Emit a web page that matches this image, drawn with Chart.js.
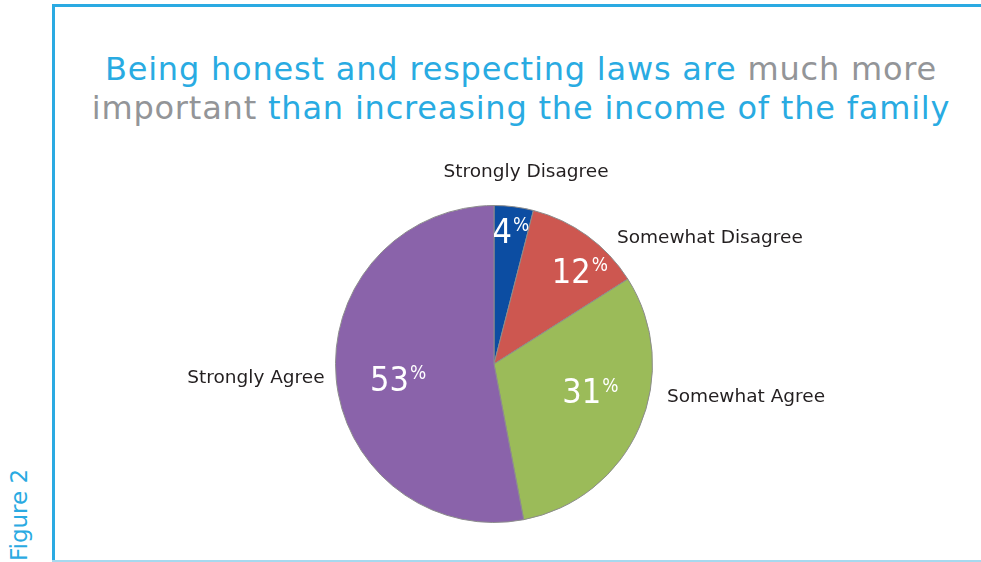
<!DOCTYPE html>
<html>
<head>
<meta charset="utf-8">
<script src="https://cdn.jsdelivr.net/npm/chart.js@4.4.0/dist/chart.umd.min.js"></script>
<style>
  html, body { margin: 0; padding: 0; background: #fff; }
  body { width: 981px; height: 562px; position: relative; overflow: hidden;
         font-family: "DejaVu Sans", sans-serif; }
  #frame { position: absolute; left: 52px; top: 4px; width: 940px; height: 570px;
           border-top: 3px solid #2aaae2; border-left: 3px solid #2aaae2; }
  #bottomLine { position: absolute; left: 52px; top: 560px; width: 929px; height: 2px; background: #a6d9ef; }
  #fig { position: absolute; left: 0; top: 0; transform-origin: 0 0;
         transform: translate(5px, 561px) rotate(-90deg);
         font-size: 23px; line-height: 28px; color: #2aaae2; white-space: nowrap; }
  #title { position: absolute; top: 50px; left: 61px; width: 920px; text-align: center;
           font-size: 32px; line-height: 39px; letter-spacing: 0.8px; color: #29abe2; }
  #title .g { color: #939598; }
  canvas { position: absolute; left: 0; top: 0; }
</style>
</head>
<body>
<div id="frame"></div>
<div id="bottomLine"></div>
<div id="fig">Figure 2</div>
<div id="title">Being honest and respecting laws are <span class="g">much more</span><br><span class="g">important</span> than increasing the income of the family</div>
<canvas id="pie" width="981" height="562"></canvas>

<script>
// --- Data ---
const categories = ["Strongly Disagree", "Somewhat Disagree", "Somewhat Agree", "Strongly Agree"];
const percents = [4, 12, 31, 53];
const sliceColors = ["#0c4da2", "#cd5750", "#9bbb59", "#8a63aa"];

// label placement tweaks (degrees / pixels)
const innerShift = [0, 6.5, -8, -3];
const innerDist = [135, 127, 100, 97];
const outerShift = [2.3, 8.3, -12.6, 0.7];
const outerDist = [194, 176, 176, 170];
const outerAlign = ["center", "left", "left", "right"];

const labelPlugin = {
  id: 'sliceLabels',
  afterDatasetsDraw(chart) {
    const ctx = chart.ctx;
    const meta = chart.getDatasetMeta(0);
    const numFont = '"DejaVu Sans Condensed", "DejaVu Sans", sans-serif';
    const font = '"DejaVu Sans", sans-serif';
    meta.data.forEach((arc, i) => {
      const mid = (arc.startAngle + arc.endAngle) / 2;
      // percentages inside
      let a = mid + innerShift[i] * Math.PI / 180;
      let px = arc.x + Math.cos(a) * innerDist[i];
      let py = arc.y + Math.sin(a) * innerDist[i];
      ctx.save();
      ctx.fillStyle = '#fff';
      ctx.font = '34px ' + numFont;
      const num = String(percents[i]);
      const wN = ctx.measureText(num).width;
      ctx.font = '19px ' + numFont;
      const wP = ctx.measureText('%').width;
      const x0 = px - (wN + wP + 1) / 2;
      ctx.textBaseline = 'alphabetic';
      ctx.textAlign = 'left';
      ctx.font = '34px ' + numFont;
      ctx.fillText(num, x0, py + 12.5);
      ctx.font = '19px ' + numFont;
      ctx.fillText('%', x0 + wN + 1, py + 1);
      // category outside
      a = mid + outerShift[i] * Math.PI / 180;
      px = arc.x + Math.cos(a) * outerDist[i];
      py = arc.y + Math.sin(a) * outerDist[i];
      ctx.fillStyle = '#231f20';
      ctx.font = '18.5px ' + font;
      ctx.textAlign = outerAlign[i];
      ctx.textBaseline = 'middle';
      ctx.fillText(categories[i], px, py);
      ctx.restore();
    });
  }
};

new Chart(document.getElementById('pie'), {
  type: 'pie',
  data: {
    labels: categories,
    datasets: [{
      data: percents,
      backgroundColor: sliceColors,
      borderColor: '#8c8c8c',
      borderWidth: 1
    }]
  },
  options: {
    responsive: false,
    animation: false,
    layout: { padding: { left: 335, right: 328, top: 205, bottom: 39 } },
    plugins: { legend: { display: false }, tooltip: { enabled: false } }
  },
  plugins: [labelPlugin]
});
</script>
</body>
</html>
